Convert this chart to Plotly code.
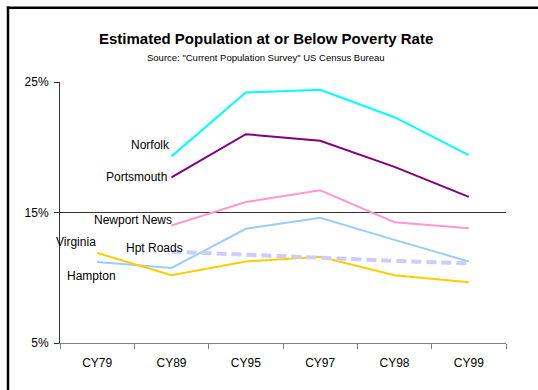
import plotly.graph_objects as go

# Calendar years on the category axis
years = ["CY79", "CY89", "CY95", "CY97", "CY98", "CY99"]

# Percent of population at or below the poverty rate
norfolk = [None, 19.3, 24.2, 24.4, 22.3, 19.4]
portsmouth = [None, 17.7, 21.0, 20.5, 18.5, 16.2]
newport_news = [None, 14.0, 15.8, 16.7, 14.25, 13.8]
hampton = [11.2, 10.75, 13.75, 14.6, 12.9, 11.25]
virginia = [11.9, 10.2, 11.25, 11.6, 10.2, 9.65]
hpt_roads = [None, 12.0, 11.75, 11.5, 11.3, 11.1]

y_ticks = [5, 15, 25]
y_tick_text = ["5%", "15%", "25%"]

series = [
    ("Norfolk", norfolk, "#00FFFF", 2, "solid"),
    ("Portsmouth", portsmouth, "#800080", 2, "solid"),
    ("Newport News", newport_news, "#FF99CC", 2, "solid"),
    ("Hampton", hampton, "#99CCFF", 2, "solid"),
    ("Virginia", virginia, "#FFCC00", 2, "solid"),
    ("Hpt Roads", hpt_roads, "#CCCCFF", 4, "10px,5px"),
]

fig = go.Figure()
for name, vals, color, width, dash in series:
    fig.add_trace(go.Scatter(
        x=years, y=vals, mode="lines", name=name,
        line=dict(color=color, width=width, dash=dash),
        connectgaps=False, hoverinfo="x+y+name",
    ))

font = "Liberation Sans, Arial, sans-serif"

W, H = 538, 390
ML, MR, MT, MB = 60, 32, 82, 47
plot_w, plot_h = W - ML - MR, H - MT - MB


def px(x):
    return (x - ML) / plot_w


def py(y):
    return (H - MB - y) / plot_h


# Series labels placed beside the line starts
labels = [
    ("Norfolk", 1, 20.15, "right", 0),
    ("Portsmouth", 1, 17.7, "right", -3),
    ("Newport News", 1, 14.45, "right", 2),
    ("Virginia", -0.285, 12.75, "center", 0),
    ("Hpt Roads", 0.77, 12.3, "center", 0),
    ("Hampton", -0.07, 10.15, "center", 0),
]
annotations = [
    dict(text=t, x=x, y=y, xref="x", yref="y", xanchor=xa, yanchor="middle",
         xshift=xs, showarrow=False, font=dict(family=font, size=12, color="#000"))
    for t, x, y, xa, xs in labels
]

annotations.append(dict(
    text="<b>Estimated Population at or Below Poverty Rate</b>",
    x=px(266), y=py(39), xref="paper", yref="paper",
    xanchor="center", yanchor="middle", showarrow=False,
    font=dict(family=font, size=15, color="#000"),
))
annotations.append(dict(
    text='Source: "Current Population Survey" US Census Bureau',
    x=px(266), y=py(57), xref="paper", yref="paper",
    xanchor="center", yanchor="middle", showarrow=False,
    font=dict(family=font, size=9.5, color="#000"),
))

fig.update_layout(
    width=W, height=H,
    margin=dict(l=ML, r=MR, t=MT, b=MB),
    paper_bgcolor="white", plot_bgcolor="white",
    showlegend=False,
    font=dict(family=font, size=12, color="#000"),
    annotations=annotations,
)

# Outer frame: left and top edges of the chart border
frame = dict(color="black", width=2.5)
fig.add_shape(type="line", xref="paper", yref="paper",
              x0=px(8), y0=py(6.6), x1=px(8), y1=py(H + 5), line=frame)
fig.add_shape(type="line", xref="paper", yref="paper",
              x0=px(6.8), y0=py(7.8), x1=px(W + 5), y1=py(7.8), line=frame)

fig.update_xaxes(
    type="category", range=[-0.5, 5.5], tickson="boundaries",
    ticks="outside", ticklen=5, tickcolor="#808080",
    showline=True, linecolor="#808080", linewidth=1,
    showgrid=False, zeroline=False, ticklabelstandoff=9,
    tickfont=dict(family=font, size=12, color="#000"),
)
fig.update_yaxes(
    range=[5, 25], tickvals=y_ticks, ticktext=y_tick_text,
    ticks="outside", ticklen=5, tickcolor="#333333",
    showline=True, linecolor="#333333", linewidth=1,
    showgrid=True, gridcolor="#333333", gridwidth=1, zeroline=False,
    ticklabelstandoff=3,
    tickfont=dict(family=font, size=12, color="#000"),
)

fig.write_html("out.html")
